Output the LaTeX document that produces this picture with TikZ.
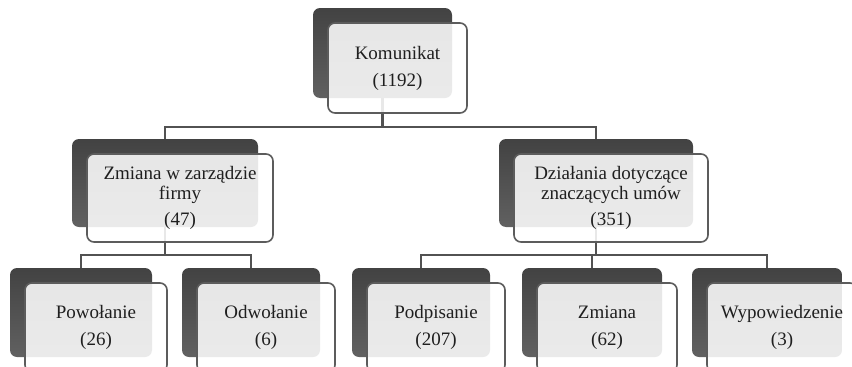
\documentclass[tikz,border=0pt]{standalone}
\usepackage{fontspec}
\setmainfont{Liberation Serif}

\begin{document}
\begin{tikzpicture}[x=1pt,y=-1pt,
  back/.style 2 args={rectangle, rounded corners=7pt, inner sep=0pt, top color=black!74, bottom color=black!62, minimum width=#1, minimum height=#2},
  front/.style 2 args={rectangle, rounded corners=7pt, inner sep=0pt, draw=black!64, line width=1.6pt, fill=white, fill opacity=0.87, text opacity=1, text=black!88, align=center, font=\fontsize{19}{20}\selectfont, minimum width=#1, minimum height=#2},
  conn/.style={draw=black!68, line width=2.5pt}]
\useasboundingbox (0,0) rectangle (852,367);
\clip (0,0) rectangle (852,367);
\node[back={139pt}{90pt}] (kom) at (382.5,53) {};
\node[back={186pt}{88pt}] (zarz) at (165,183) {};
\node[back={194pt}{88pt}] (umowy) at (596,183) {};
\node[back={142pt}{89pt}] (pow) at (81,312.5) {};
\node[back={138pt}{89pt}] (odw) at (251,312.5) {};
\node[back={138pt}{89pt}] (pod) at (421,312.5) {};
\node[back={140pt}{89pt}] (zmi) at (592,312.5) {};
\node[back={150pt}{89pt}] (wyp) at (767,312.5) {};
\coordinate (bus1) at (382.5,127);
\coordinate (bus2) at (165,255);
\coordinate (bus3) at (596,255);
\draw[conn] (kom.south) -- (bus1) -| (zarz.north);
\draw[conn] (bus1) -| (umowy.north);
\draw[conn] (zarz.south) -- (bus2) -| (pow.north);
\draw[conn] (bus2) -| (odw.north);
\draw[conn] (umowy.south) -- (bus3) -| (pod.north);
\draw[conn] (bus3) -| (zmi.north);
\draw[conn] (bus3) -| (wyp.north);
\node[front={139pt}{90pt}] (kom-t) at ([shift={(15,15)}]kom.center) {Komunikat\\[7pt](1192)};
\node[front={186pt}{88pt}] (zarz-t) at ([shift={(15,15)}]zarz.center) {Zmiana w zarządzie\\firmy\\[6pt](47)};
\node[front={194pt}{88pt}] (umowy-t) at ([shift={(15,15)}]umowy.center) {Działania dotyczące\\znaczących umów\\[6pt](351)};
\node[front={142pt}{89pt}] (pow-t) at ([shift={(15,15)}]pow.center) {Powołanie\\[7pt](26)};
\node[front={138pt}{89pt}] (odw-t) at ([shift={(15,15)}]odw.center) {Odwołanie\\[7pt](6)};
\node[front={138pt}{89pt}] (pod-t) at ([shift={(15,15)}]pod.center) {Podpisanie\\[7pt](207)};
\node[front={140pt}{89pt}] (zmi-t) at ([shift={(15,15)}]zmi.center) {Zmiana\\[7pt](62)};
\node[front={150pt}{89pt}] (wyp-t) at ([shift={(15,15)}]wyp.center) {Wypowiedzenie\\[7pt](3)};
\end{tikzpicture}
\end{document}
